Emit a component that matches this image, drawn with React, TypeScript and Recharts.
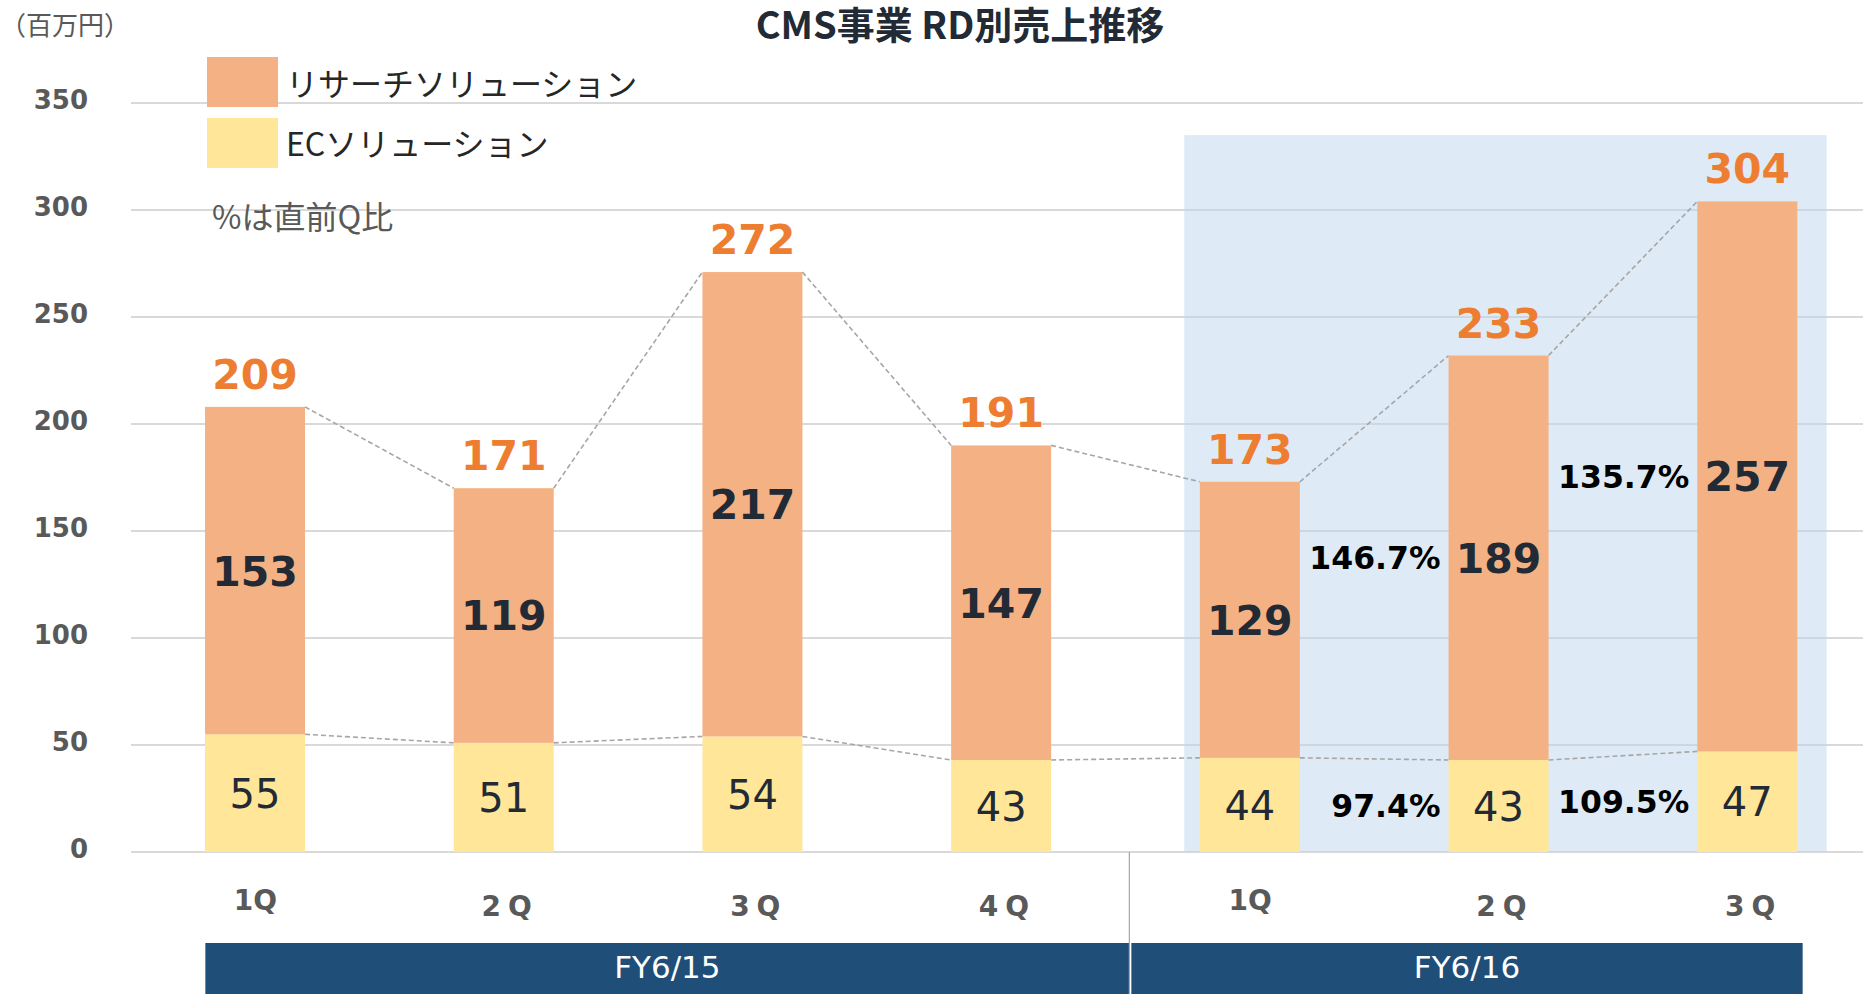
import React from 'react';
import { BarChart, Bar, XAxis, YAxis, CartesianGrid, ReferenceArea, LabelList } from 'recharts';

// ---- data ----
const quarters = ['1Q', '2Q', '3Q', '4Q', '1Q', '2Q', '3Q'];
const periods = ['FY6/15', 'FY6/15', 'FY6/15', 'FY6/15', 'FY6/16', 'FY6/16', 'FY6/16'];
const researchSales = [153, 119, 217, 147, 129, 189, 257];
const ecSales = [55, 51, 54, 43, 44, 43, 47];
const totalSales = [209, 171, 272, 191, 173, 233, 304];
const researchGrowth = ['', '', '', '', '', '146.7%', '135.7%'];
const ecGrowth = ['', '', '', '', '', '97.4%', '109.5%'];
const yTicks = [0, 50, 100, 150, 200, 250, 300, 350];
const highlightTop = 335;

const data = quarters.map((q, i) => ({
  key: `${periods[i]} ${q}`,
  quarter: q,
  period: periods[i],
  research: researchSales[i],
  ec: ecSales[i],
  total: totalSales[i],
  researchGrowth: researchGrowth[i],
  ecGrowth: ecGrowth[i],
}));

// ---- styles ----
const NUM_FONT = "'DejaVu Sans', 'Noto Sans', sans-serif";
const JP_FONT = "'Noto Sans CJK JP', 'Noto Sans', sans-serif";
const RESEARCH_COLOR = '#F4B183';
const EC_COLOR = '#FFE699';
const TOTAL_COLOR = '#ED7D31';
const DARK = '#222A35';
const GRAY = '#595959';
const BAR = 100;
const PCT_GAP = 8;

type Box = { x: number; y: number; width: number; height: number };
const researchBoxes: Box[] = [];
const ecBoxes: Box[] = [];
const tickXs: number[] = [];
let sepX = 0;

const findIndex = (cache: Box[], x: number) => cache.findIndex((b) => b && Math.abs(b.x - x) < 0.5);

const makeShape = (cache: Box[], fill: string) => (props: any) => {
  const x = Number(props.x), y = Number(props.y), width = Number(props.width), height = Number(props.height);
  let index = props.index;
  if (index === undefined) index = data.findIndex((d) => d.key === props.payload?.key);
  cache[index] = { x, y, width, height };
  const prev = index > 0 ? cache[index - 1] : undefined;
  return (
    <g>
      {prev && (
        <line x1={prev.x + prev.width} y1={prev.y} x2={x} y2={y} stroke="#A6A6A6" strokeWidth={1.6} strokeDasharray="5 3" />
      )}
      <rect x={x} y={y} width={width} height={height} fill={fill} />
    </g>
  );
};

const researchShape = makeShape(researchBoxes, RESEARCH_COLOR);
const ecShape = makeShape(ecBoxes, EC_COLOR);

const ResearchLabel = (props: any) => {
  const x = Number(props.x), y = Number(props.y), width = Number(props.width), height = Number(props.height);
  let index = props.index;
  if (index === undefined) index = findIndex(researchBoxes, x);
  const d = data[index];
  if (!d) return null;
  const cx = x + width / 2;
  const cy = y + height / 2;
  return (
    <g>
      <text x={cx} y={y - 18} textAnchor="middle" fontFamily={NUM_FONT} fontWeight="bold" fontSize={41} fill={TOTAL_COLOR}>
        {d.total}
      </text>
      <text x={cx} y={cy + 0.365 * 41} textAnchor="middle" fontFamily={NUM_FONT} fontWeight="bold" fontSize={41} fill={DARK}>
        {d.research}
      </text>
      {d.researchGrowth && (
        <text x={x - PCT_GAP} y={cy + 0.365 * 31} textAnchor="end" fontFamily={NUM_FONT} fontWeight="bold" fontSize={31.5} fill="#000">
          {d.researchGrowth}
        </text>
      )}
    </g>
  );
};

const EcLabel = (props: any) => {
  const x = Number(props.x), y = Number(props.y), width = Number(props.width), height = Number(props.height);
  let index = props.index;
  if (index === undefined) index = findIndex(ecBoxes, x);
  const d = data[index];
  if (!d) return null;
  const cx = x + width / 2;
  const cy = y + height / 2;
  return (
    <g>
      <text x={cx} y={cy + 0.365 * 40} textAnchor="middle" fontFamily={NUM_FONT} fontSize={40} fill={DARK}>
        {d.ec}
      </text>
      {d.ecGrowth && (
        <text x={x - PCT_GAP} y={cy + 0.365 * 31} textAnchor="end" fontFamily={NUM_FONT} fontWeight="bold" fontSize={31.5} fill="#000">
          {d.ecGrowth}
        </text>
      )}
    </g>
  );
};

const QuarterTick = (props: any) => {
  const x = Number(props.x), y = Number(props.y);
  const index = props.index ?? props.payload?.index;
  tickXs[index] = x;
  const d = data[index];
  if (!d) return null;
  const isFirstQ = d.quarter.startsWith('1');
  const isPeriodEnd = index === data.length - 1 || data[index + 1].period !== d.period;
  const parts: any[] = [];
  parts.push(
    <text key="q" x={x} dx={isFirstQ ? 0 : 6} y={y + (isFirstQ ? 58 : 64)} textAnchor="middle" fontFamily={NUM_FONT} fontWeight="bold" fontSize={28} fill={GRAY} letterSpacing={isFirstQ ? 0 : 7}>
      {d.quarter}
    </text>
  );
  if (isPeriodEnd) {
    let first = index;
    while (first > 0 && data[first - 1].period === d.period) first--;
    const firstX = tickXs[first];
    const step = index > 0 ? x - tickXs[index - 1] : 0;
    const isFirstPeriod = first === 0;
    const isLastPeriod = index === data.length - 1;
    const left = isFirstPeriod ? firstX - BAR / 2 : sepX + 2;
    let right: number;
    if (isLastPeriod) {
      right = x + BAR / 2 + 5;
    } else {
      sepX = x + step / 2 + 3.5;
      right = sepX;
    }
    parts.push(<rect key="b" x={left} y={y + 91} width={right - left} height={51} fill="#1F4E79" />);
    parts.push(
      <text key="t" x={(left + right) / 2} y={y + 126} textAnchor="middle" fontFamily={NUM_FONT} fontSize={31} fill="#FFFFFF">
        {d.period}
      </text>
    );
    if (!isLastPeriod) {
      parts.push(<line key="s" x1={sepX} x2={sepX} y1={y} y2={y + 142} stroke="#A6A6A6" strokeWidth={1.2} />);
    }
  }
  return <g>{parts}</g>;
};

const YTick = (props: any) => {
  const x = Number(props.x), y = Number(props.y);
  return (
    <text x={x} y={y - 3 + 0.365 * 26} textAnchor="end" fontFamily={NUM_FONT} fontWeight="bold" fontSize={26} fill={GRAY}>
      {props.payload?.value}
    </text>
  );
};

const HighlightShape = (props: any) => {
  const x = Number(props.x), y = Number(props.y), width = Number(props.width), height = Number(props.height);
  const step = width / 3;
  const left = x + step / 2 - BAR / 2 - 16;
  const right = x + width - step / 2 + BAR / 2 + 29;
  return <rect x={left} y={y} width={right - left} height={height} fill="#BDD7EE" fillOpacity={0.5} />;
};

export default function App() {
  return (
    <div style={{ position: 'absolute', left: 0, top: 0, width: 1863, height: 994, overflow: 'hidden', background: '#fff' }}>
      <BarChart width={1872} height={994} data={data} margin={{ top: 103, right: 0, bottom: 0, left: 0 }}>
        <CartesianGrid horizontal vertical={false} stroke="#D9D9D9" strokeWidth={2} />
        <ReferenceArea x1={data[4].key} x2={data[6].key} y1={0} y2={highlightTop} shape={HighlightShape} />
        <XAxis
          dataKey="key"
          height={142}
          axisLine={false}
          tickLine={false}
          tickSize={0}
          tickMargin={0}
          interval={0}
          tick={(p: any) => <QuarterTick {...p} />}
        />
        <YAxis
          domain={[0, 350]}
          ticks={yTicks}
          interval={0}
          width={131}
          axisLine={false}
          tickLine={false}
          tickSize={0}
          tickMargin={43}
          tick={(p: any) => <YTick {...p} />}
        />
        <Bar dataKey="ec" stackId="s" fill={EC_COLOR} barSize={BAR} shape={ecShape} isAnimationActive={false}>
          <LabelList dataKey="ec" content={EcLabel} />
        </Bar>
        <Bar dataKey="research" stackId="s" fill={RESEARCH_COLOR} barSize={BAR} shape={researchShape} isAnimationActive={false}>
          <LabelList dataKey="research" content={ResearchLabel} />
        </Bar>
      </BarChart>
      <svg width={1863} height={260} style={{ position: 'absolute', left: 0, top: 0, pointerEvents: 'none' }}>
        <text x={0} y={35} fontFamily={JP_FONT} fontSize={26} fill={GRAY}>（百万円）</text>
        <text x={960} y={39} textAnchor="middle" fontFamily={JP_FONT} fontWeight="bold" fontSize={38} fill={DARK}>CMS事業 RD別売上推移</text>
        <rect x={207} y={57} width={71} height={50} fill={RESEARCH_COLOR} />
        <text x={286} y={96} fontFamily={JP_FONT} fontSize={32} fill="#262626">リサーチソリューション</text>
        <rect x={207} y={118} width={71} height={50} fill={EC_COLOR} />
        <text x={286} y={156} fontFamily={JP_FONT} fontSize={32} fill="#262626">ECソリューション</text>
        <text x={212} y={229} fontFamily={JP_FONT} fontSize={32} fill={GRAY}>%は直前Q比</text>
      </svg>
    </div>
  );
}
